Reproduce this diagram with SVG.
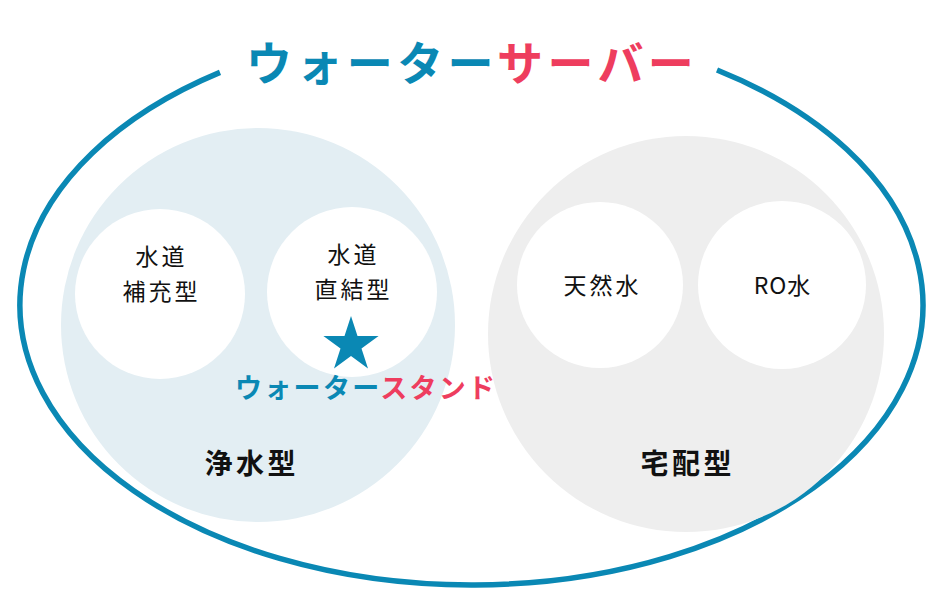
<svg xmlns="http://www.w3.org/2000/svg" width="945" height="600" viewBox="0 0 945 600">
<style>
.b{fill:#0a88b4}.r{fill:#ee3d5e}
.lbl{font-family:"Noto Sans CJK JP","Noto Sans",sans-serif;font-size:23px;fill:#111;text-anchor:middle;letter-spacing:3px}
.grp{font-family:"Noto Sans CJK JP",sans-serif;font-size:28px;font-weight:bold;fill:#111;text-anchor:middle;letter-spacing:3.5px}
.sm{fill:#fff}
</style>
<rect width="945" height="600" fill="#fff"/>
<g id="outer">
<path d="M220 72.4 A451.5 280 0 1 0 717 70" fill="none" stroke="#0a88b4" stroke-width="5.5"/>
<text x="246" y="80" font-family="Noto Sans CJK JP,sans-serif" font-size="46" font-weight="bold" letter-spacing="4.4"><tspan class="b">ウォーター</tspan><tspan class="r">サーバー</tspan></text>
</g>
<g id="jousui">
<circle cx="258" cy="325" r="197" fill="#e3eef3"/>
<text class="grp" x="251.75" y="474">浄水型</text>
</g>
<g id="takuhai">
<circle cx="686" cy="334" r="198" fill="#eeeeee"/>
<text class="grp" x="687.75" y="474">宅配型</text>
</g>
<g id="hojuu">
<circle class="sm" cx="160" cy="294" r="85"/>
<text class="lbl" x="161.5" y="265">水道</text>
<text class="lbl" x="161.5" y="300">補充型</text>
</g>
<g id="chokketsu">
<circle class="sm" cx="352" cy="292" r="85"/>
<text class="lbl" x="353.5" y="263">水道</text>
<text class="lbl" x="353.5" y="298">直結型</text>
</g>
<g id="tennen">
<circle class="sm" cx="600" cy="285" r="83"/>
<text class="lbl" x="602.5" y="294">天然水</text>
</g>
<g id="ro">
<circle class="sm" cx="782" cy="285" r="84"/>
<text class="lbl" x="782.5" y="294" style="letter-spacing:1px">RO水</text>
</g>
<g id="stand">
<polygon class="b" points="351,316 357.5,336 378.6,336 361.5,348.4 368,368.5 351,356.1 334,368.5 340.5,348.4 323.4,336 344.5,336"/>
<text x="235" y="398" font-family="Noto Sans CJK JP,sans-serif" font-size="27" font-weight="bold" letter-spacing="2.3"><tspan class="b">ウォーター</tspan><tspan class="r">スタンド</tspan></text>
</g>
<g id="connectors"></g>
</svg>
